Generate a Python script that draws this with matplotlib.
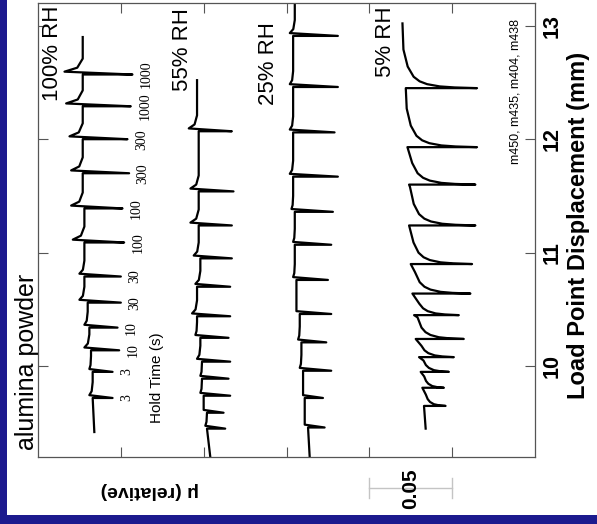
import matplotlib
matplotlib.use('Agg')
import matplotlib.pyplot as plt
from matplotlib.patches import Rectangle

plt.rcParams['font.family'] = ['Liberation Sans', 'DejaVu Sans']

# hold times (s) of the slide-hold-slide sequence, same for every run
hold_times = ['3', '3', '10', '10', '30', '30', '100', '100', '300', '300', '1000', '1000']

# 100% RH: load point displacement of each hold (mm) and friction levels
rh100_holds = [9.72, 9.95, 10.14, 10.34, 10.56, 10.79, 11.09, 11.39, 11.70, 12.00, 12.29, 12.57]
rh100_pre = [0.267, 0.267, 0.268, 0.269, 0.270, 0.272, 0.272, 0.272, 0.273, 0.273, 0.273, 0.273]
rh100_tip = [0.255, 0.255, 0.251, 0.252, 0.250, 0.250, 0.248, 0.249, 0.245, 0.246, 0.244, 0.243]
rh100_peak = [0.269, 0.269, 0.272, 0.272, 0.275, 0.275, 0.279, 0.280, 0.280, 0.281, 0.283, 0.284]
rh100_start = (9.42, 0.266)
rh100_end = (12.90, 0.273)

# 55% RH
rh55_holds = [9.45, 9.59, 9.74, 9.89, 10.04, 10.25, 10.44, 10.70, 10.95, 11.24, 11.54, 12.07]
rh55_pre = [0.198, 0.198, 0.200, 0.201, 0.201, 0.202, 0.204, 0.204, 0.202, 0.203, 0.203, 0.203]
rh55_tip = [0.187, 0.188, 0.184, 0.185, 0.184, 0.185, 0.184, 0.184, 0.183, 0.183, 0.182, 0.183]
rh55_peak = [0.199, 0.200, 0.202, 0.202, 0.204, 0.205, 0.207, 0.205, 0.206, 0.208, 0.208, 0.209]
rh55_start = (9.20, 0.196)
rh55_end = (12.52, 0.204)

# 25% RH
rh25_holds = [9.46, 9.72, 9.96, 10.21, 10.46, 10.76, 11.07, 11.36, 11.67, 12.06, 12.46, 12.91]
rh25_pre = [0.137, 0.139, 0.140, 0.141, 0.142, 0.144, 0.145, 0.145, 0.146, 0.146, 0.146, 0.146]
rh25_tip = [0.127, 0.128, 0.123, 0.126, 0.123, 0.125, 0.123, 0.122, 0.119, 0.121, 0.119, 0.119]
rh25_peak = [0.139, 0.140, 0.142, 0.143, 0.144, 0.146, 0.146, 0.147, 0.148, 0.148, 0.148, 0.148]
rh25_start = (9.20, 0.136)
rh25_end = (13.20, 0.145)

# 5% RH (no peak on reslide, friction recovers from the relaxed value)
rh5_holds = [9.65, 9.81, 9.95, 10.08, 10.24, 10.45, 10.64, 10.90, 11.24, 11.60, 11.93, 12.45]
rh5_pre = [0.067, 0.068, 0.069, 0.070, 0.072, 0.073, 0.074, 0.075, 0.076, 0.076, 0.077, 0.078]
rh5_tip = [0.054, 0.055, 0.052, 0.049, 0.043, 0.046, 0.039, 0.038, 0.036, 0.036, 0.035, 0.035]
rh5_start = (9.45, 0.066)
rh5_end = (13.02, 0.080)

# shape of the reslide transient: displacement after the hold (mm), fraction of excess left
peak_dx = [0.025, 0.06, 0.14]
peak_w = [1.0, 0.3, 0.0]
recovery_dx = [0.0, 0.006, 0.015, 0.035, 0.06, 0.10, 0.19, 0.34]
recovery_w = [1.0, 0.7, 0.5, 0.33, 0.23, 0.15, 0.07, 0.013]


def build_trace(start, end, holds, pre, tip, peak, dx, w):
    disp = [start[0]]
    mu = [start[1]]
    for i, h in enumerate(holds):
        if i + 1 < len(holds):
            nxt_d, nxt_mu = holds[i + 1], pre[i + 1]
        else:
            nxt_d, nxt_mu = end
        disp += [h, h]
        mu += [pre[i], tip[i]]
        for ddx, ww in zip(dx, w):
            if h + ddx < nxt_d - 0.015:
                disp.append(h + ddx)
                mu.append(nxt_mu + ww * (peak[i] - nxt_mu))
    disp.append(end[0])
    mu.append(end[1])
    return mu, disp


W, H = 597, 524
fig = plt.figure(figsize=(W / 100, H / 100), dpi=100, facecolor='#1c1a8e')
fig.patches.append(Rectangle((7 / W, 9 / H), 1, 1, transform=fig.transFigure,
                             facecolor='white', edgecolor='none', zorder=-1))


def fx(px):
    return px / W


def fy(py):
    return 1 - py / H


ax = fig.add_axes([fx(38), fy(457), fx(535) - fx(38), fy(3) - fy(457)])

traces = [
    build_trace(rh100_start, rh100_end, rh100_holds, rh100_pre, rh100_tip, rh100_peak, peak_dx, peak_w),
    build_trace(rh55_start, rh55_end, rh55_holds, rh55_pre, rh55_tip, rh55_peak, peak_dx, peak_w),
    build_trace(rh25_start, rh25_end, rh25_holds, rh25_pre, rh25_tip, rh25_peak, peak_dx, peak_w),
    build_trace(rh5_start, rh5_end, rh5_holds, rh5_pre, rh5_tip, rh5_tip, recovery_dx, recovery_w),
]
for mu, disp in traces:
    ax.plot(mu, disp, color='black', lw=1.6)

# hold time labels beside the 100% RH run
for h, t, m in zip(rh100_holds, hold_times, rh100_tip):
    ax.text(m - 0.0085, h, t, rotation=90, ha='center', va='center',
            fontsize=10, family='Liberation Serif')

ax.set_xlim(0.3, 0.0)
ax.set_ylim(9.2, 13.2)
ax.set_xticks([0.05, 0.10, 0.15, 0.20, 0.25])
ax.set_yticks([10, 11, 12, 13])
ax.set_yticklabels(['10', '11', '12', '13'], rotation=90, va='center',
                   fontsize=15.5, fontweight='bold')
ax.tick_params(direction='in', length=7, width=0.8, color='#555555',
               top=True, bottom=True, left=True, right=True,
               labelbottom=False, labelleft=False, labelright=True, pad=5)
for s in ax.spines.values():
    s.set_color('#555555')
    s.set_linewidth(0.9)

# 0.05 friction scale bar under the axes
tr = ax.get_xaxis_transform()
ax.plot([0.05, 0.10], [-0.068, -0.068], transform=tr, color='#c4c4c4', lw=1, clip_on=False)
for m in (0.05, 0.10):
    ax.plot([m, m], [-0.046, -0.090], transform=tr, color='#c4c4c4', lw=1, clip_on=False)
ax.text(0.075, -0.070, '0.05', transform=tr, rotation=90, ha='center', va='center',
        fontsize=15, fontweight='bold')

fig.text(fx(579), fy(225), 'Load Point Displacement (mm)', rotation=90,
         ha='center', va='center', fontsize=17, fontweight='bold')
fig.text(fx(150), fy(490), 'μ (relative)', rotation=180,
         ha='center', va='center', fontsize=14, fontweight='bold')
fig.text(fx(27), fy(362), 'alumina powder', rotation=90, ha='center', va='center', fontsize=18)
fig.text(fx(52), fy(53), '100% RH', rotation=90, ha='center', va='center', fontsize=16)
fig.text(fx(182), fy(50), '55% RH', rotation=90, ha='center', va='center', fontsize=16)
fig.text(fx(268), fy(64), '25% RH', rotation=90, ha='center', va='center', fontsize=16)
fig.text(fx(385), fy(42), '5% RH', rotation=90, ha='center', va='center', fontsize=16)
fig.text(fx(515), fy(91), 'm450, m435, m404, m438', rotation=90, ha='center', va='center', fontsize=9)
fig.text(fx(157), fy(378), 'Hold Time (s)', rotation=90, ha='center', va='center', fontsize=11)

fig.savefig('out.png', dpi=100)
